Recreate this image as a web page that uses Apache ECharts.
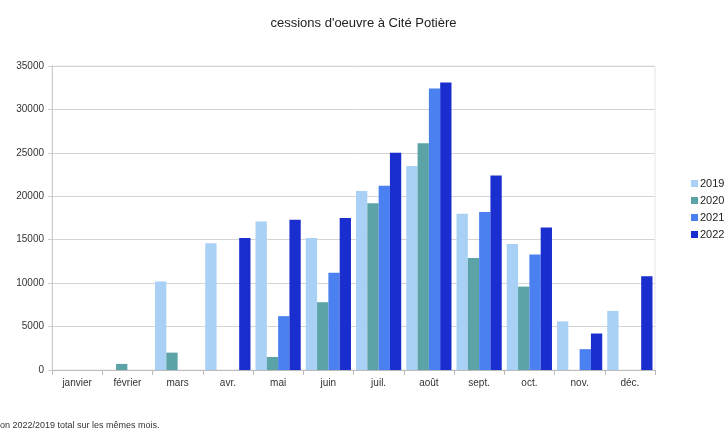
<!DOCTYPE html>
<html><head><meta charset="utf-8">
<script src="https://cdn.jsdelivr.net/npm/echarts@6/dist/echarts.min.js"></script>
<style>html,body{margin:0;padding:0;background:#fff}#c{width:727px;height:434px}</style>
</head><body><div id="c"></div>
<script>
const categories = ['janvier','février','mars','avr.','mai','juin','juil.','août','sept.','oct.','nov.','déc.'];
const s2019 = [null, null, 10200, 14600, 17100, 15200, 20600, 23500, 18000, 14500, 5600, 6800];
const s2020 = [null, 700, 2000, null, 1500, 7800, 19200, 26100, 12900, 9600, null, null];
const s2021 = [null, null, null, null, 6200, 11200, 21200, 32400, 18200, 13300, 2400, null];
const s2022 = [null, null, null, 15200, 17300, 17500, 25000, 33100, 22400, 16400, 4200, 10800];
const seriesNames = ['2019','2020','2021','2022'];
const colors = ['#a9d0f5','#5ba3a6','#4a80f0','#1a2ed0'];
const data = [s2019, s2020, s2021, s2022];
const chart = echarts.init(document.getElementById('c'));
chart.setOption({
  animation:false,
  title:{text:"cessions d'oeuvre à Cité Potière", left:'center', top:12,
    textStyle:{fontFamily:'Liberation Sans', fontSize:13, fontWeight:'normal', color:'#222'}},
  graphic:[{type:'text', left:0, top:421, style:{text:'on 2022/2019 total sur les mêmes mois.', fontFamily:'Liberation Sans', fontSize:9, fill:'#333'}}],
  legend:{orient:'vertical', left:686, top:173, itemWidth:7, itemHeight:7, itemGap:6, icon:'rect',
    textStyle:{fontFamily:'Liberation Sans', fontSize:11, color:'#222', padding:[0,0,0,-3]}},
  grid:{left:52, right:72, top:66, bottom:64, show:true, borderColor:'#e6e6e6', borderWidth:1},
  xAxis:{type:'category', data:categories,
    axisLine:{lineStyle:{color:'#bbb'}}, axisTick:{show:true, length:5, lineStyle:{color:'#bbb'}},
    axisLabel:{fontFamily:'Liberation Sans', fontSize:10, color:'#333', margin:8}},
  yAxis:{type:'value', min:0, max:35000, interval:5000,
    axisLine:{show:true, lineStyle:{color:'#ccc'}}, axisTick:{show:true, length:4, lineStyle:{color:'#ccc'}},
    splitLine:{lineStyle:{color:'#d4d4d4'}},
    axisLabel:{fontFamily:'Liberation Sans', fontSize:10, color:'#333', margin:8, formatter:v=>String(v)}},
  series: seriesNames.map((n,i)=>({name:n, type:'bar', data:data[i], barGap:'0%', barCategoryGap:'10%',
    itemStyle:{color:colors[i]}}))
});
</script></body></html>
